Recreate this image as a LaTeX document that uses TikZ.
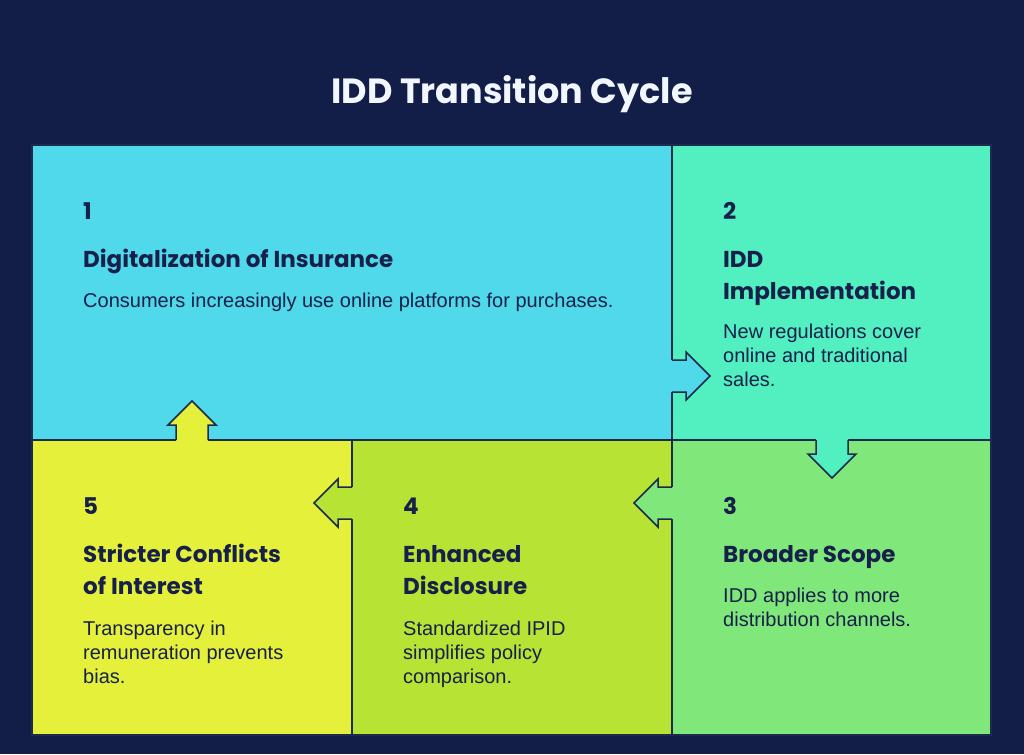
\documentclass[tikz,border=0pt]{standalone}
\usepackage{fontspec}
\setmainfont{Liberation Sans}
\newfontfamily\headfont{Poppins}
\usetikzlibrary{%
  positioning,%
  shapes.misc%
}
\definecolor{bgnavy}{HTML}{121D48}
\definecolor{edgeline}{HTML}{1C2A4E}
\definecolor{ink}{HTML}{17204A}
\definecolor{titlewhite}{HTML}{F2F7FF}
\definecolor{stepcyan}{HTML}{4FD9EA}
\definecolor{stepteal}{HTML}{52F0C0}
\definecolor{stepgreen}{HTML}{80E87A}
\definecolor{steplime}{HTML}{B6E334}
\definecolor{stepyellow}{HTML}{E4F03A}

\begin{document}
\begin{tikzpicture}[x=1pt,y=-1pt,
	border/.style={
	draw=edgeline,line width=1.5pt
	},tipline/.style={
	draw=edgeline,line width=1.5pt,line join=miter
	},title/.style={
	anchor=base,inner sep=0pt,text=titlewhite,
	font=\headfont\bfseries\fontsize{35}{40}\selectfont
	},num/.style={
	anchor=base west,inner sep=0pt,text=ink,
	font=\headfont\bfseries\fontsize{23}{32}\selectfont
	},head/.style={
	anchor=base west,inner sep=0pt,text=ink,align=left,
	font=\headfont\bfseries\fontsize{23}{32}\selectfont
	},body/.style={
	anchor=base west,inner sep=0pt,text=ink,align=left,
	font=\fontsize{20}{24}\selectfont
	}
]

% background
\fill[bgnavy] (0,0) rectangle (1024,754);
\node (title) [title] at (512,104) {IDD Transition Cycle};

% panels
\fill[stepcyan]   (32,145)  rectangle (672,440);
\fill[stepteal]   (672,145) rectangle (991,440);
\fill[stepgreen]  (672,440) rectangle (991,735);
\fill[steplime]   (352,440) rectangle (672,735);
\fill[stepyellow] (32,440)  rectangle (352,735);
\draw[border] (32,145) rectangle (991,735);
\draw[border] (672,145) -- (672,735);
\draw[border] (32,440) -- (991,440);
\draw[border] (352,440) -- (352,735);

% arrows (x,y)
% 1 -> 2
\fill[stepcyan] (670,360) -- (686,360) -- (686,352) -- (710,376) -- (686,400) -- (686,392) -- (670,392) -- cycle;
\draw[tipline] (672,360) -- (686,360) -- (686,352) -- (710,376) -- (686,400) -- (686,392) -- (672,392);
% 2 -> 3
\fill[stepteal] (816,438) -- (816,454) -- (808,454) -- (832,478) -- (856,454) -- (848,454) -- (848,438) -- cycle;
\draw[tipline] (816,440) -- (816,454) -- (808,454) -- (832,478) -- (856,454) -- (848,454) -- (848,440);
% 3 -> 4
\fill[stepgreen] (674,487) -- (658,487) -- (658,479) -- (634,503) -- (658,527) -- (658,519) -- (674,519) -- cycle;
\draw[tipline] (672,487) -- (658,487) -- (658,479) -- (634,503) -- (658,527) -- (658,519) -- (672,519);
% 4 -> 5
\fill[steplime] (354,487) -- (338,487) -- (338,479) -- (314,503) -- (338,527) -- (338,519) -- (354,519) -- cycle;
\draw[tipline] (352,487) -- (338,487) -- (338,479) -- (314,503) -- (338,527) -- (338,519) -- (352,519);
% 5 -> 1
\fill[stepyellow] (176,442) -- (176,425) -- (168,425) -- (192,401) -- (216,425) -- (208,425) -- (208,442) -- cycle;
\draw[tipline] (176,440) -- (176,425) -- (168,425) -- (192,401) -- (216,425) -- (208,425) -- (208,440);

% First row (multi-line nodes sit on their last baseline)
\node (num1) [num] at (83,219) {1};
\node (head1) [head] at (83,267) {Digitalization of Insurance};
\node (body1) [body] at (83,307) {Consumers increasingly use online platforms for purchases.};

\node (num2) [num] at (723,219) {2};
\node (head2) [head] at (723,299) {IDD\\Implementation};
\node (body2) [body] at (723,386) {New regulations cover\\online and traditional\\sales.};

% Second row
\node (num3) [num] at (723,514) {3};
\node (head3) [head] at (723,562) {Broader Scope};
\node (body3) [body] at (723,626) {IDD applies to more\\distribution channels.};

\node (num4) [num] at (403,514) {4};
\node (head4) [head] at (403,594) {Enhanced\\Disclosure};
\node (body4) [body] at (403,683) {Standardized IPID\\simplifies policy\\comparison.};

\node (num5) [num] at (83,514) {5};
\node (head5) [head] at (83,594) {Stricter Conflicts\\of Interest};
\node (body5) [body] at (83,683) {Transparency in\\remuneration prevents\\bias.};

\end{tikzpicture}
\end{document}
